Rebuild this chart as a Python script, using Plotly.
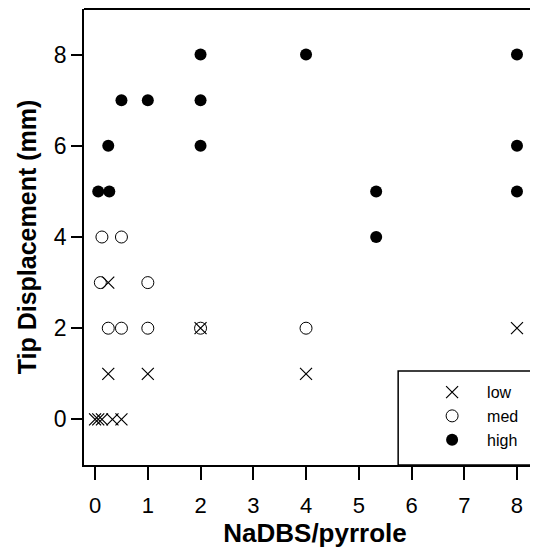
import plotly.graph_objects as go

# NaDBS/pyrrole ratio vs tip displacement (mm)
low_x = [0.0, 0.06, 0.13, 0.33, 0.5, 0.25, 1.0, 4.0, 0.25, 2.0, 8.0]
low_y = [0, 0, 0, 0, 0, 1, 1, 1, 3, 2, 2]

med_x = [0.13, 0.5, 0.1, 1.0, 0.25, 0.5, 1.0, 2.0, 4.0]
med_y = [4, 4, 3, 3, 2, 2, 2, 2, 2]

high_x = [0.06, 0.27, 0.25, 0.5, 1.0, 2.0, 2.0, 2.0, 4.0, 5.33, 5.33, 8.0, 8.0, 8.0]
high_y = [5, 5, 6, 7, 7, 6, 7, 8, 8, 5, 4, 5, 6, 8]

x_ticks = [0, 1, 2, 3, 4, 5, 6, 7, 8]
y_ticks = [0, 2, 4, 6, 8]

FONT = "Liberation Sans, Arial, sans-serif"

fig = go.Figure()
fig.add_trace(go.Scatter(x=low_x, y=low_y, mode="markers", name="low",
                         marker=dict(symbol="x-thin", size=12,
                                     line=dict(color="black", width=1.2))))
fig.add_trace(go.Scatter(x=med_x, y=med_y, mode="markers", name="med",
                         marker=dict(symbol="circle-open", size=12, color="black",
                                     line=dict(color="black", width=1))))
fig.add_trace(go.Scatter(x=high_x, y=high_y, mode="markers", name="high",
                         marker=dict(symbol="circle", size=12, color="black")))

# frame: top line plus legend box (right side of the frame is off-page)
fig.add_shape(type="line", xref="paper", yref="paper", x0=0, x1=1.05, y0=1, y1=1,
              line=dict(color="black", width=2))
fig.add_shape(type="rect", xref="paper", yref="paper", x0=0.680, x1=1.05,
              y0=0, y1=0.206, line=dict(color="black", width=1.5),
              fillcolor="white", layer="below")

fig.update_layout(
    width=538, height=550,
    margin=dict(l=76, r=0, t=1, b=93),
    plot_bgcolor="white", paper_bgcolor="white",
    font=dict(family=FONT, color="black"),
    showlegend=True,
    legend=dict(x=0.721, y=0.197, xanchor="left", yanchor="top",
                bgcolor="rgba(0,0,0,0)", borderwidth=0,
                font=dict(size=16, family=FONT), itemwidth=60,
                tracegroupgap=0),
    xaxis=dict(range=[-0.21, 8.55], tickvals=x_ticks, ticks="outside", ticklen=13,
               tickwidth=1.5, tickcolor="black", showline=True, linecolor="black",
               linewidth=1.5, showgrid=False, zeroline=False,
               tickfont=dict(size=22), ticklabelstandoff=7,
               title=dict(text="<b>NaDBS/pyrrole</b>", font=dict(size=26), standoff=1)),
    yaxis=dict(range=[-1, 9], tickvals=y_ticks, ticks="outside", ticklen=11,
               tickwidth=1.5, tickcolor="black", showline=True, linecolor="black",
               linewidth=1.5, showgrid=False, zeroline=False,
               tickfont=dict(size=23),
               title=dict(text="<b>Tip Displacement (mm)</b>", font=dict(size=25), standoff=10)),
)

fig.write_html("out.html")
